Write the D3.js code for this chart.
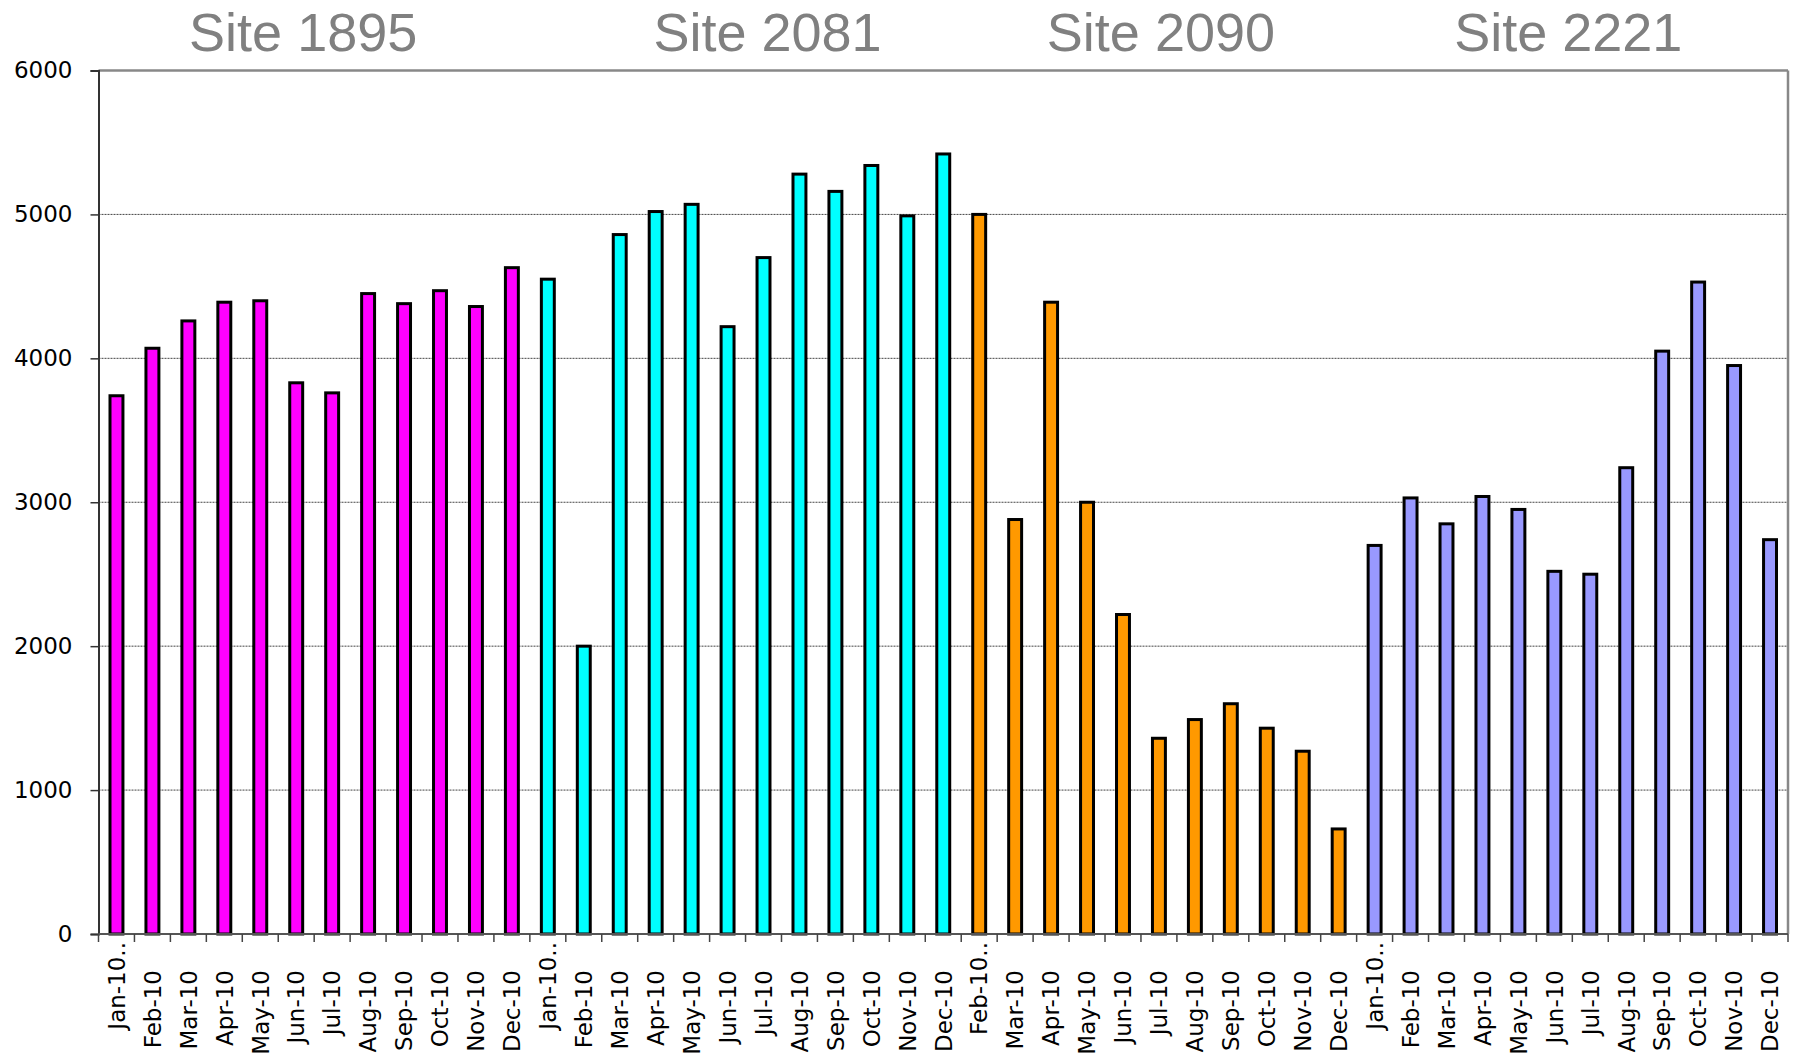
<!DOCTYPE html>
<html>
<head>
<meta charset="utf-8">
<script src="https://cdn.jsdelivr.net/npm/d3@7"></script>
<style>
  body { margin: 0; background: #fff; }
  svg { display: block; }
</style>
</head>
<body>
<div class="chart"></div>
<script>
// data
const sites = ['Site 1895', 'Site 2081', 'Site 2090', 'Site 2221'];
const siteColors = ['#ff00ff', '#00ffff', '#ff9900', '#9999ff'];

const months1895 = ['Jan-10..', 'Feb-10', 'Mar-10', 'Apr-10', 'May-10', 'Jun-10', 'Jul-10', 'Aug-10', 'Sep-10', 'Oct-10', 'Nov-10', 'Dec-10'];
const values1895 = [3740, 4070, 4260, 4390, 4400, 3830, 3760, 4450, 4380, 4470, 4360, 4630];

const months2081 = ['Jan-10..', 'Feb-10', 'Mar-10', 'Apr-10', 'May-10', 'Jun-10', 'Jul-10', 'Aug-10', 'Sep-10', 'Oct-10', 'Nov-10', 'Dec-10'];
const values2081 = [4550, 2000, 4860, 5020, 5070, 4220, 4700, 5280, 5160, 5340, 4990, 5420];

const months2090 = ['Feb-10..', 'Mar-10', 'Apr-10', 'May-10', 'Jun-10', 'Jul-10', 'Aug-10', 'Sep-10', 'Oct-10', 'Nov-10', 'Dec-10'];
const values2090 = [5000, 2880, 4390, 3000, 2220, 1360, 1490, 1600, 1430, 1270, 730];

const months2221 = ['Jan-10..', 'Feb-10', 'Mar-10', 'Apr-10', 'May-10', 'Jun-10', 'Jul-10', 'Aug-10', 'Sep-10', 'Oct-10', 'Nov-10', 'Dec-10'];
const values2221 = [2700, 3030, 2850, 3040, 2950, 2520, 2500, 3240, 4050, 4530, 3950, 2740];

const yTicks = [0, 1000, 2000, 3000, 4000, 5000, 6000];

const monthLists = [months1895, months2081, months2090, months2221];
const valueLists = [values1895, values2081, values2090, values2221];

// flatten into one row per bar
const rows = [];
monthLists.forEach((ms, g) => {
    ms.forEach((m, i) => {
        rows.push({ key: g + '-' + i, label: m, value: valueLists[g][i], group: g });
    });
});

const W = 1800, H = 1057;
const margin = { top: 70.5, right: 12, bottom: 123, left: 98.5 };
const width = W - margin.left - margin.right;
const height = H - margin.top - margin.bottom;

// the titles sit a little off the group centres in the original
const titleNudge = [-11, 22, 2, -4];

const svg = d3.select('.chart').append('svg')
    .attr('width', W)
    .attr('height', H)
    .append('g')
    .attr('transform', `translate(${margin.left},${margin.top})`);

const x = d3.scaleBand()
    .domain(rows.map(d => d.key))
    .range([0, width])
    .paddingInner(0.64)
    .paddingOuter(0.32);

const y = d3.scaleLinear()
    .domain([0, 6000])
    .range([height, 0]);

const step = x.step();

// dotted grid
svg.append('g')
    .selectAll('line')
    .data(yTicks.filter(t => t > 0 && t < 6000))
    .enter()
    .append('line')
    .attr('x1', 0)
    .attr('x2', width)
    .attr('y1', d => y(d))
    .attr('y2', d => y(d))
    .attr('stroke', '#444')
    .attr('stroke-width', 1)
    .attr('stroke-dasharray', '2,1');

// plot frame top / right
svg.append('line')
    .attr('x1', 0).attr('x2', width)
    .attr('y1', y(6000)).attr('y2', y(6000))
    .attr('stroke', '#888').attr('stroke-width', 2.5);
svg.append('line')
    .attr('x1', width).attr('x2', width)
    .attr('y1', y(6000)).attr('y2', y(0))
    .attr('stroke', '#888').attr('stroke-width', 2.5);

// bars
svg.append('g')
    .selectAll('rect')
    .data(rows)
    .enter()
    .append('rect')
    .attr('x', d => x(d.key))
    .attr('y', d => y(d.value))
    .attr('width', x.bandwidth())
    .attr('height', d => y(0) - y(d.value))
    .attr('fill', d => siteColors[d.group])
    .attr('stroke', '#000')
    .attr('stroke-width', 3);

// y axis
const yAxis = svg.append('g')
    .call(d3.axisLeft(y).tickValues(yTicks).tickSize(8).tickPadding(18).tickFormat(d3.format('d')));
yAxis.select('.domain').attr('stroke', '#333').attr('stroke-width', 2);
yAxis.selectAll('.tick line').attr('stroke', '#333').attr('stroke-width', 1.5);
yAxis.selectAll('.tick text')
    .attr('font-family', 'DejaVu Sans, Verdana, sans-serif')
    .attr('font-size', 23)
    .attr('fill', '#000');

// x axis: baseline + ticks on category edges
const xg = svg.append('g').attr('transform', `translate(0,${height})`);
xg.append('line')
    .attr('x1', 0).attr('x2', width)
    .attr('stroke', '#555').attr('stroke-width', 2);
xg.selectAll('.edge')
    .data(rows)
    .enter()
    .append('line')
    .attr('class', 'edge')
    .attr('x1', d => x(d.key) + x.bandwidth() / 2 - step / 2)
    .attr('x2', d => x(d.key) + x.bandwidth() / 2 - step / 2)
    .attr('y1', 0).attr('y2', 8)
    .attr('stroke', '#444').attr('stroke-width', 1.5);
xg.append('line')
    .attr('x1', width).attr('x2', width)
    .attr('y1', 0).attr('y2', 8)
    .attr('stroke', '#444').attr('stroke-width', 1.5);

xg.selectAll('.lbl')
    .data(rows)
    .enter()
    .append('text')
    .attr('class', 'lbl')
    .attr('transform', d => {
        const off = d.label.endsWith('..') ? 8 : 36;
        return `translate(${x(d.key) + x.bandwidth() / 2},${off}) rotate(-90)`;
    })
    .attr('text-anchor', 'end')
    .attr('dy', '0.36em')
    .attr('font-family', 'DejaVu Sans, Verdana, sans-serif')
    .attr('font-size', 23)
    .attr('fill', '#000')
    .text(d => d.label);

// site titles over their group
sites.forEach((s, g) => {
    const keys = rows.filter(r => r.group === g).map(r => r.key);
    const cx = (x(keys[0]) + x(keys[keys.length - 1]) + x.bandwidth()) / 2;
    svg.append('text')
        .attr('x', cx + titleNudge[g])
        .attr('y', 51 - margin.top)
        .attr('text-anchor', 'middle')
        .attr('font-family', 'Liberation Sans, Arial, sans-serif')
        .attr('font-size', 54)
        .attr('fill', '#808080')
        .text(s);
});
</script>
</body>
</html>
